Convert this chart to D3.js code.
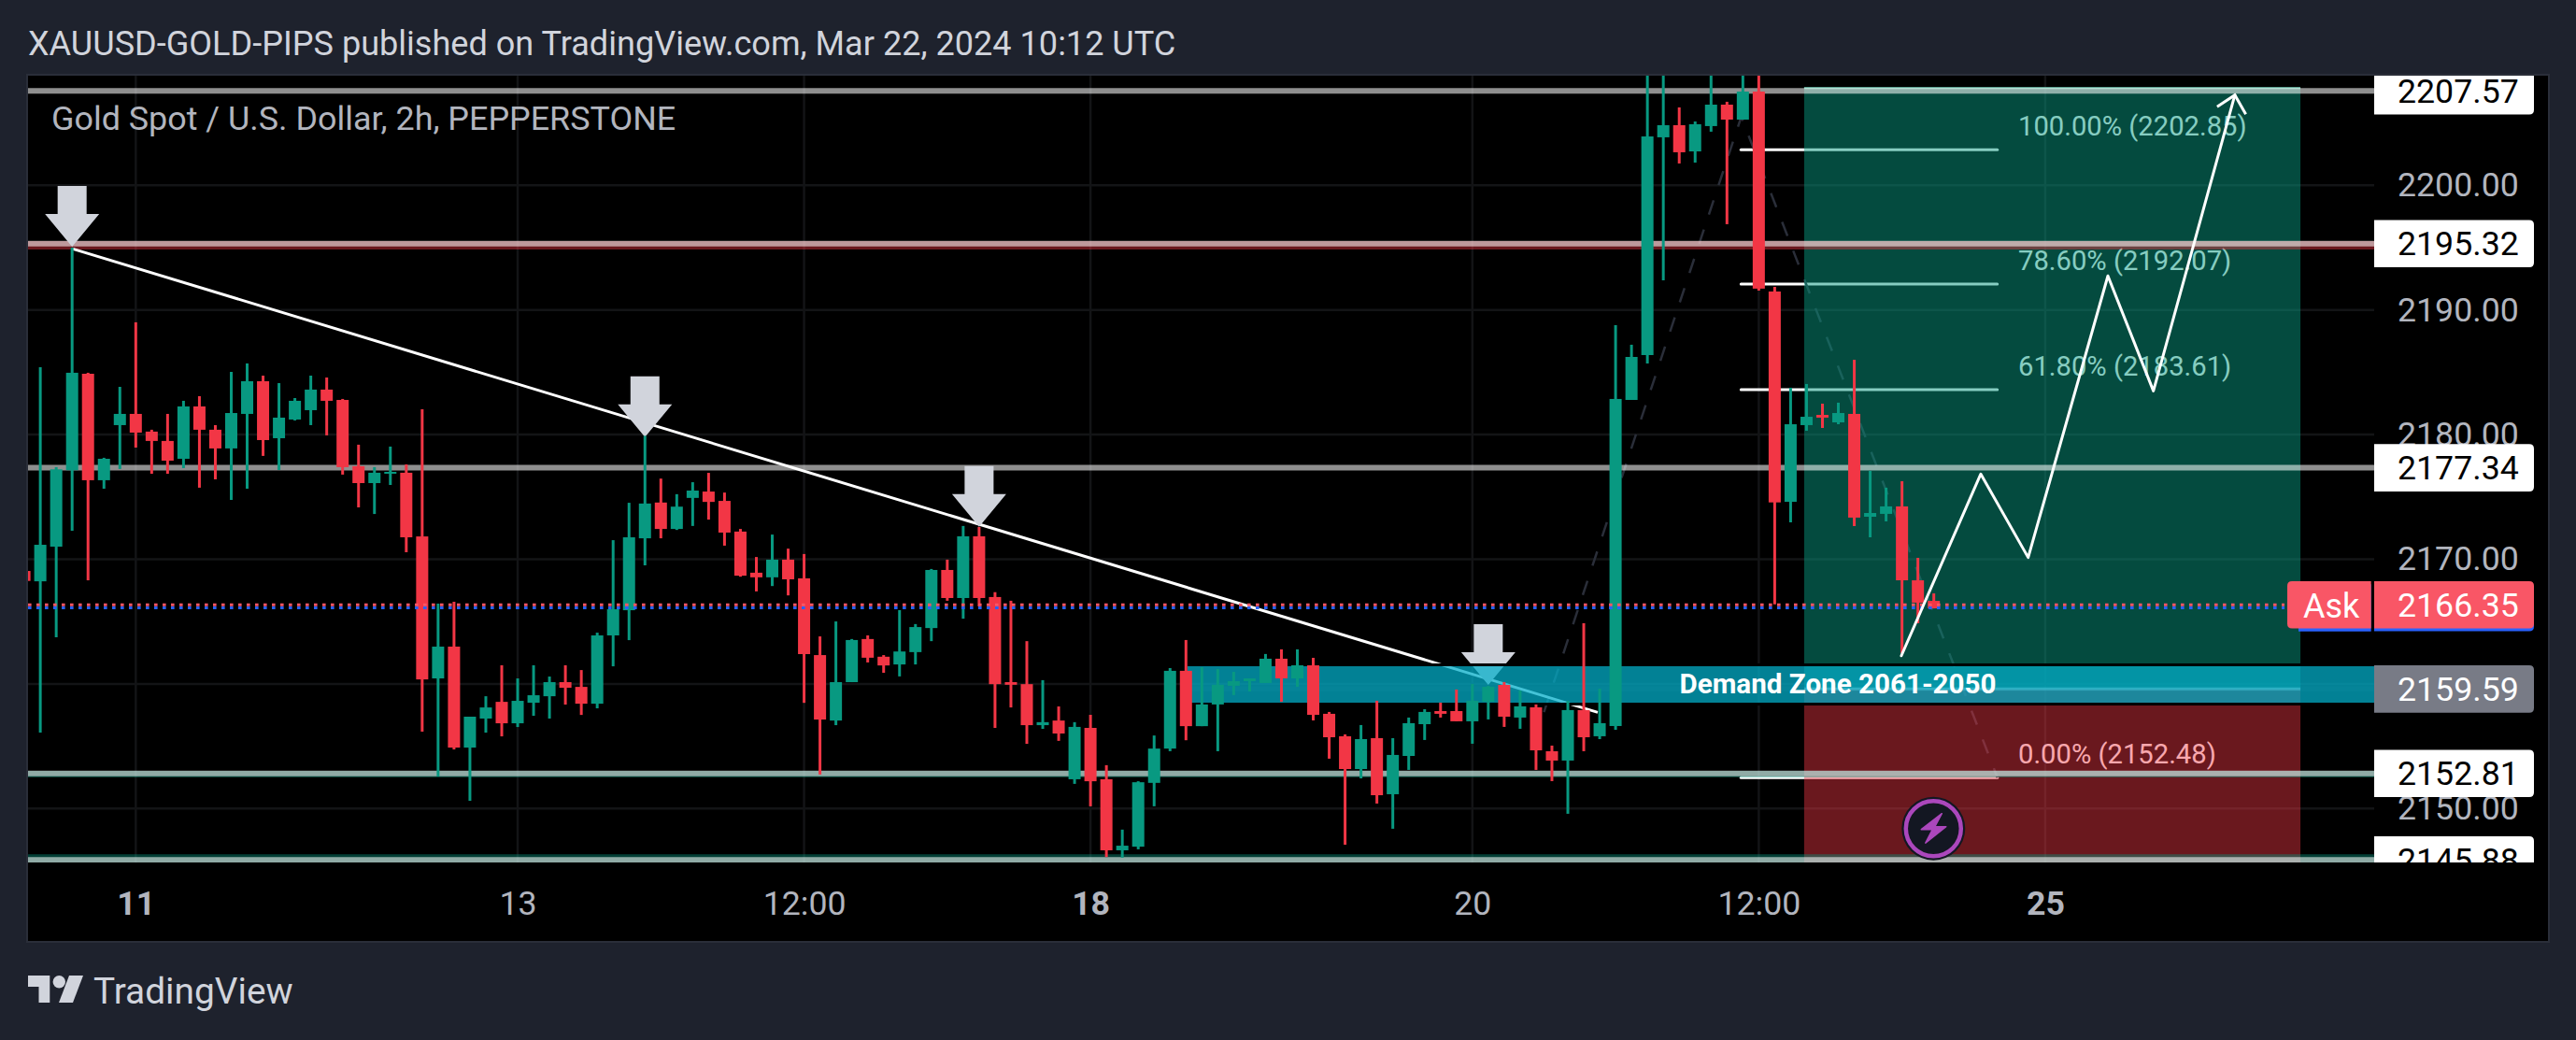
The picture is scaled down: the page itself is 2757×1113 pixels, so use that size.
<!DOCTYPE html>
<html>
<head>
<meta charset="utf-8">
<script src="https://cdn.jsdelivr.net/npm/d3@7"></script>
<style>html,body{margin:0;padding:0;background:#1e222d;overflow:hidden}svg{display:block}text{font-family:Roboto,sans-serif}</style>
</head>
<body>
<div id="chart"></div>
<script>
const headerText = "XAUUSD-GOLD-PIPS published on TradingView.com, Mar 22, 2024 10:12 UTC";
const legendText = "Gold Spot / U.S. Dollar, 2h, PEPPERSTONE";
const opens = [2169.06,2168.23,2171.01,2177.14,2184.88,2176.34,2180.76,2181.66,2180.24,2179.49,
2178.06,2182.26,2180.39,2178.89,2181.66,2184.28,2179.71,2181.21,2181.96,2183.61,
2182.78,2177.46,2176.11,2176.86,2176.94,2171.83,2160.44,2162.99,2154.89,2157.22,
2158.56,2156.84,2158.49,2159.01,2160.14,2159.76,2158.41,2163.89,2165.91,2171.68,
2174.55,2172.43,2174.92,2175.43,2174.68,2172.22,2168.92,2168.55,2169.97,2168.47,
2162.31,2157.06,2160.14,2163.6,2162.18,2161.56,2162.55,2164.48,2169.14,2166.89,
2171.84,2166.97,2160.14,2159.98,2156.69,2157.06,2152.35,2156.47,2152.35,2146.65,
2146.94,2152.06,2154.81,2161.05,2156.61,2158.35,2159.85,2160.22,2160.07,2162.02,
2160.44,2161.49,2157.6,2155.8,2153.17,2155.65,2151.15,2154.22,2156.77,2157.82,
2157.82,2157.0,2158.57,2159.92,2157.3,2158.12,2154.6,2153.85,2157.9,2155.8,
2156.62,2182.78,2186.38,2203.85,2204.82,2202.72,2204.75,2206.47,2205.27,2207.52,
2191.48,2174.61,2180.76,2181.58,2180.98,2181.66,2173.41,2173.64,2174.24,2168.31,2166.66];
const closes = [2168.26,2171.16,2177.21,2184.96,2176.34,2178.06,2181.66,2180.16,2179.49,2177.91,
2182.26,2180.39,2178.89,2181.73,2184.28,2179.56,2181.36,2182.71,2183.61,2182.71,
2177.39,2176.11,2176.94,2177.01,2171.76,2160.36,2162.99,2154.89,2157.37,2158.11,
2156.84,2158.64,2159.09,2160.14,2159.69,2158.41,2163.89,2165.99,2171.76,2174.47,
2172.43,2174.22,2175.51,2174.6,2172.14,2168.68,2168.55,2169.97,2168.39,2162.39,
2157.14,2160.14,2163.52,2162.1,2161.48,2162.6,2164.56,2169.14,2166.89,2171.84,
2166.89,2159.98,2159.93,2156.69,2156.93,2156.02,2156.55,2152.19,2146.65,2147.02,
2152.11,2154.81,2161.05,2156.61,2158.35,2159.93,2160.22,2160.44,2162.02,2160.44,
2161.49,2157.52,2155.72,2153.17,2155.57,2151.07,2154.3,2156.85,2157.75,2157.6,
2157.0,2158.65,2159.77,2157.37,2158.2,2154.67,2153.85,2157.9,2155.72,2156.85,
2182.86,2186.23,2203.92,2204.82,2202.65,2204.9,2206.47,2205.27,2207.52,2191.71,
2174.56,2180.83,2181.43,2181.36,2181.73,2173.34,2173.71,2174.24,2168.31,2166.52,2166.06];
const highs = [2169.2,2185.41,2177.39,2195.0,2184.96,2178.14,2183.83,2189.01,2180.39,2181.66,
2182.71,2183.08,2180.76,2185.03,2185.71,2184.73,2184.13,2182.93,2184.73,2184.58,
2182.86,2179.19,2177.39,2179.04,2177.61,2182.03,2166.44,2166.59,2157.37,2159.01,
2161.49,2160.44,2161.49,2160.59,2161.49,2161.11,2164.11,2171.53,2174.53,2179.9,
2176.47,2175.22,2176.18,2176.93,2175.35,2172.43,2170.18,2171.98,2170.85,2170.42,
2163.81,2165.01,2163.6,2163.89,2162.31,2165.92,2164.8,2169.22,2169.97,2172.67,
2172.59,2167.36,2166.67,2163.43,2160.3,2158.19,2156.93,2157.52,2153.48,2148.31,
2152.19,2155.86,2161.27,2163.52,2161.35,2161.19,2160.97,2160.44,2162.4,2162.77,
2162.77,2162.09,2157.75,2155.95,2156.7,2158.65,2155.65,2157.3,2157.97,2158.5,
2159.55,2160,2159.85,2160.15,2159.47,2158.35,2155.05,2158.65,2164.87,2159.62,
2188.78,2187.21,2215,2215,2206.25,2205.12,2214,2206.7,2214,2214,
2191.85,2183.76,2184.06,2182.48,2182.56,2186.0,2177.09,2175.74,2176.26,2170.11,2167.26];
const lows = [2168.1,2156.09,2163.74,2172.28,2168.31,2175.66,2177.24,2178.96,2176.86,2176.86,
2177.31,2175.74,2176.41,2174.76,2175.66,2178.29,2177.16,2181.13,2180.76,2179.94,
2176.79,2174.16,2173.63,2175.96,2170.56,2156.17,2152.57,2154.74,2150.62,2156.09,
2155.79,2156.54,2157.44,2157.22,2158.34,2157.51,2158.04,2161.41,2163.51,2169.51,
2171.68,2172.35,2172.67,2173.18,2171.09,2168.6,2167.42,2167.85,2167.1,2158.48,
2152.73,2156.69,2160.14,2161.72,2160.89,2160.6,2161.56,2163.43,2166.67,2165.23,
2166.22,2156.47,2158.11,2155.19,2156.39,2155.43,2151.98,2150.18,2146.11,2146.06,
2146.73,2150.18,2154.6,2155.48,2156.61,2154.6,2159.1,2159.39,2160.07,2158.57,
2159.77,2157.07,2154.0,2147.1,2152.42,2150.4,2148.38,2153.1,2155.5,2157.3,
2157.0,2155.2,2157.15,2156.55,2156.4,2153.1,2152.2,2149.58,2154.6,2155.57,
2156.32,2182.78,2185.71,2192.38,2201.75,2201.82,2204.3,2196.88,2205.27,2191.55,
2166.39,2172.96,2180.31,2180.53,2180.83,2172.66,2171.76,2173.04,2162.47,2164.87,2166.06];
const priceTicks = [2150,2160,2170,2180,2190,2200];
const priceTickLabels = ["2150.00","","2170.00","2180.00","2190.00","2200.00"];
const timeTickBars = [7,31,49,67,91,109,127];
const timeTickLabels = ["11","13","12:00","18","20","12:00","25"];
const boldTimeLabels = ["11","18","25"];
const levelPrices = [2207.57,2195.32,2177.34,2152.81,2145.88];
const fibPrices = [2202.85,2192.07,2183.61,2152.48];
const fibLabels = ["100.00% (2202.85)","78.60% (2192.07)","61.80% (2183.61)","0.00% (2152.48)"];
const trendBars = [3,98.88];
const trendPrices = [2194.92,2157.72];
const arrowBars = [3,39,60,92];
const arrowPrices = [2195.07,2179.8,2172.6,2159.92];
const dashBars = [95.5,107.9,124];
const dashPrices = [2157.74,2205.5,2152.48];
const zigBars = [117.96,122.95,125.93,130.94,133.8,138.92];
const zigPrices = [2162.26,2176.84,2170.14,2192.73,2183.5,2207.24];
const askPrice = 2166.35, bidPrice = 2166.12, entryPrice = 2159.59, targetPrice = 2207.87;
const posBars = [111.85,143.04];
const zoneBarStart = 73;
const zonePrices = [2161.53,2158.38];
const zoneLabel = "Demand Zone 2061-2050";

const W = 2757, H = 1113;
const L = 30, T = 81, R = 2541, B = 923, PR = 2727, PB = 1007;
const GREEN = "#089981", RED = "#f23645";

const x = d3.scaleLinear().domain([0,127]).range([26.1,2188.9]);
const y = d3.scaleLinear().domain([2145,2200]).range([198.3+55*13.34,198.3]);

const svg = d3.select("#chart").append("svg").attr("width",W).attr("height",H);
svg.append("rect").attr("width",W).attr("height",H).attr("fill","#1e222d");
svg.append("rect").attr("x",L-1).attr("y",T-1).attr("width",PR-L+2).attr("height",PB-T+2).attr("fill","#000").attr("stroke","#2a2e39").attr("stroke-width",2);

const defs = svg.append("defs");
defs.append("clipPath").attr("id","plot").append("rect").attr("x",L).attr("y",T).attr("width",R-L).attr("height",B-T);
defs.append("clipPath").attr("id","axis").append("rect").attr("x",R).attr("y",T).attr("width",PR-R).attr("height",B-T);

const plot = svg.append("g").attr("clip-path","url(#plot)");

// grid
plot.append("g").selectAll("line").data(priceTicks).join("line")
  .attr("x1",L).attr("x2",R).attr("y1",d=>y(d)).attr("y2",d=>y(d)).attr("stroke","#131416").attr("stroke-width",2.5);
plot.append("g").selectAll("line").data(timeTickBars).join("line")
  .attr("x1",d=>x(d)).attr("x2",d=>x(d)).attr("y1",T).attr("y2",B).attr("stroke","#131416").attr("stroke-width",2.5);

// fib lines, labels and dashed path: below the translucent position boxes
plot.append("g").selectAll("line").data(fibPrices).join("line")
  .attr("x1",1863.3).attr("x2",2137.7).attr("y1",d=>y(d)).attr("y2",d=>y(d)).attr("stroke","#fff").attr("stroke-width",3).attr("stroke-linecap","round");
plot.append("g").selectAll("text").data(fibLabels).join("text")
  .attr("x",2160).attr("y",(d,i)=>y(fibPrices[i])-15).attr("fill","#fff").attr("font-size",29.2).text(d=>d);
const lineGen = d3.line().x(d=>x(d[0])).y(d=>y(d[1]));
plot.append("path").attr("d",lineGen(d3.zip(dashBars,dashPrices))).attr("fill","none")
  .attr("stroke","#2a2e39").attr("stroke-width",2.5).attr("stroke-dasharray","16 17");

// position boxes
plot.append("rect").attr("x",x(posBars[0])).attr("width",x(posBars[1])-x(posBars[0]))
  .attr("y",y(targetPrice)).attr("height",y(entryPrice)-y(targetPrice)).attr("fill",GREEN).attr("fill-opacity",.49);
plot.append("line").attr("x1",x(posBars[0])).attr("x2",x(posBars[1])).attr("y1",y(targetPrice)+1).attr("y2",y(targetPrice)+1)
  .attr("stroke","#7fc8b6").attr("stroke-width",2);
plot.append("rect").attr("x",x(posBars[0])).attr("width",x(posBars[1])-x(posBars[0]))
  .attr("y",y(entryPrice)).attr("height",B-y(entryPrice)).attr("fill",RED).attr("fill-opacity",.44);

// level lines
const levelBase = [null,{p:2195.18,w:9,c:"rgba(242,54,69,.44)"},null,{p:2152.76,w:7,c:"rgba(8,153,129,.42)"},{p:2146.0,w:9,c:"rgba(8,153,129,.42)"}];
plot.append("g").selectAll("line").data(levelBase.filter(Boolean)).join("line")
  .attr("x1",L).attr("x2",R).attr("y1",d=>y(d.p)).attr("y2",d=>y(d.p)).attr("stroke",d=>d.c).attr("stroke-width",d=>d.w);
plot.append("g").selectAll("line").data(levelPrices).join("line")
  .attr("x1",L).attr("x2",R).attr("y1",d=>y(d)).attr("y2",d=>y(d)).attr("stroke","#fff").attr("stroke-opacity",.56).attr("stroke-width",6);

// entry line beneath the zone
plot.append("line").attr("x1",x(posBars[0])).attr("x2",x(posBars[1])).attr("y1",y(entryPrice)).attr("y2",y(entryPrice)).attr("stroke","#fff").attr("stroke-opacity",.6).attr("stroke-width",3);
plot.append("line").attr("x1",x(zoneBarStart)).attr("x2",R).attr("y1",y(entryPrice)).attr("y2",y(entryPrice)).attr("stroke","#fff").attr("stroke-opacity",.05).attr("stroke-width",6);

// trend line and arrows
plot.append("path").attr("d",lineGen(d3.zip(trendBars,trendPrices))).attr("fill","none").attr("stroke","#fff").attr("stroke-width",3);
plot.append("g").selectAll("path").data(d3.zip(arrowBars,arrowPrices)).join("path")
  .attr("transform",d=>`translate(${x(d[0])},${y(d[1])})`)
  .attr("d","M0,0L-29,-35L-15.5,-35L-15.5,-65L15.5,-65L15.5,-35L29,-35Z").attr("fill","#d1d4dc");

// demand zone
plot.append("rect").attr("x",x(zoneBarStart)).attr("width",R+4-x(zoneBarStart))
  .attr("y",y(zonePrices[0])).attr("height",y(zonePrices[1])-y(zonePrices[0]))
  .attr("fill","rgba(3,174,201,.74)").attr("stroke","#000").attr("stroke-width",3);

// candles
const candles = opens.map((o,i)=>({i,o,c:closes[i],h:highs[i],l:lows[i]}));
const cg = plot.append("g");
cg.selectAll("line").data(candles).join("line")
  .attr("x1",d=>x(d.i)).attr("x2",d=>x(d.i)).attr("y1",d=>y(d.h)).attr("y2",d=>y(d.l))
  .attr("stroke",d=>d.c>=d.o?GREEN:RED).attr("stroke-width",3);
cg.selectAll("rect").data(candles).join("rect")
  .attr("x",d=>x(d.i)-6.5).attr("width",13)
  .attr("y",d=>y(Math.max(d.o,d.c))).attr("height",d=>Math.max(1,Math.abs(y(d.o)-y(d.c))))
  .attr("fill",d=>d.c>=d.o?GREEN:RED);

// last-price dotted lines
plot.append("line").attr("x1",L).attr("x2",2445).attr("y1",y(askPrice)).attr("y2",y(askPrice)).attr("stroke","#f95666").attr("stroke-width",3).attr("stroke-dasharray","3.6 5.4");
plot.append("line").attr("x1",L).attr("x2",2445).attr("y1",y(bidPrice)+.2).attr("y2",y(bidPrice)+.2).attr("stroke","#2962ff").attr("stroke-width",3).attr("stroke-dasharray","3.6 5.4");

// projected zigzag with arrow head
plot.append("path").attr("d",lineGen(d3.zip(zigBars,zigPrices))).attr("fill","none").attr("stroke","#fff").attr("stroke-width",3).attr("stroke-linejoin","round").attr("stroke-linecap","round");
const tipX = x(zigBars[5]), tipY = y(zigPrices[5]);
plot.append("path").attr("d",`M${tipX-19},${tipY+12.5}L${tipX},${tipY}L${tipX+11.7},${tipY+20.5}`).attr("fill","none").attr("stroke","#fff").attr("stroke-width",3);

// zone label
plot.append("text").attr("x",1967).attr("y",742).attr("text-anchor","middle").attr("fill","#fff").attr("font-weight",700).attr("font-size",29.6).text(zoneLabel);

// alert icon
const icon = plot.append("g").attr("transform","translate(2069.3,886.7)");
icon.append("circle").attr("r",34).attr("fill","#131722");
icon.append("circle").attr("r",29.5).attr("fill","none").attr("stroke","#ab47bc").attr("stroke-width",4.5);
icon.append("path").attr("d","M9,-16L-13,1L-1,1L-8.5,15.5L13.5,-2L1.5,-2Z").attr("fill","#ab47bc").attr("stroke","#ab47bc").attr("stroke-width",1.5).attr("stroke-linejoin","round");

// axes
const yAxis = svg.append("g").attr("clip-path","url(#axis)").append("g").attr("transform",`translate(${R},0)`)
  .call(d3.axisRight(y).tickValues(priceTicks.filter((d,i)=>priceTickLabels[i])).tickSize(0).tickPadding(25).tickFormat(d3.format(".2f")));
yAxis.select(".domain").remove();
yAxis.selectAll("text").attr("fill","#b2b5be").attr("font-size",35.7).attr("font-family","Roboto,sans-serif");

const xAxis = svg.append("g").attr("transform",`translate(0,${B})`)
  .call(d3.axisBottom(x).tickValues(timeTickBars).tickSize(0).tickPadding(31).tickFormat((d,i)=>timeTickLabels[i]));
xAxis.select(".domain").remove();
xAxis.selectAll("text").attr("fill","#b2b5be").attr("font-size",35.7).attr("font-family","Roboto,sans-serif")
  .attr("font-weight",(d,i)=>boldTimeLabels.includes(timeTickLabels[i])?700:400);

// price tags
const tags = [
  {p:2207.57,bg:"#fff",fg:"#000"},{p:2195.32,bg:"#fff",fg:"#000"},{p:2177.34,bg:"#fff",fg:"#000"},
  {p:2152.81,bg:"#fff",fg:"#000"},{p:2145.88,bg:"#fff",fg:"#000"},
  {p:entryPrice,bg:"#787b86",fg:"#fff"},{p:askPrice,bg:"#f95666",fg:"#fff",under:"#2962ff"}
];
const tagG = svg.append("g").attr("clip-path","url(#axis)");
tags.forEach(t=>{
  const cy = y(t.p), top = cy-25.3, h = 50.6, r = 5, X0 = R, X1 = 2712;
  const shape = (o)=>`M${X0},${top+o}H${X1-r}Q${X1},${top+o} ${X1},${top+o+r}V${top+o+h-r}Q${X1},${top+o+h} ${X1-r},${top+o+h}H${X0}Z`;
  if(t.under) tagG.append("path").attr("d",shape(3)).attr("fill",t.under);
  tagG.append("path").attr("d",shape(0)).attr("fill",t.bg);
  tagG.append("text").attr("x",2566).attr("y",cy+12.5).attr("font-size",35.7).attr("fill",t.fg).text(d3.format(".2f")(t.p));
});
// Ask tag
const askY = y(askPrice);
svg.append("path").attr("d",`M2460,${askY-22}H2537.7V${askY+28.5}H2460Z`).attr("fill","#2962ff");
svg.append("path").attr("d",`M2453,${askY-25.3}H2537.7V${askY+25.3}H2453Q2448,${askY+25.3} 2448,${askY+20.3}V${askY-20.3}Q2448,${askY-25.3} 2453,${askY-25.3}Z`).attr("fill","#f95666");
svg.append("text").attr("x",2465).attr("y",askY+14).attr("font-size",36).attr("fill","#fff").text("Ask");

// titles
svg.append("text").attr("x",30).attr("y",59).attr("font-size",36.1).attr("fill","#d1d4dc").text(headerText);
svg.append("text").attr("x",55).attr("y",139).attr("font-size",35.9).attr("fill","#b2b5be").text(legendText);

// footer logo
const logo = svg.append("g").attr("fill","#d1d4dc");
logo.append("path").attr("d","M30,1044H53.3V1073H41.5V1056H30Z");
logo.append("circle").attr("cx",63.3).attr("cy",1050.7).attr("r",6.7);
logo.append("path").attr("d","M74,1044H89L78,1073H63Z");
svg.append("text").attr("x",100).attr("y",1074).attr("font-size",38.8).attr("fill","#d1d4dc").text("TradingView");
</script>
</body>
</html>
